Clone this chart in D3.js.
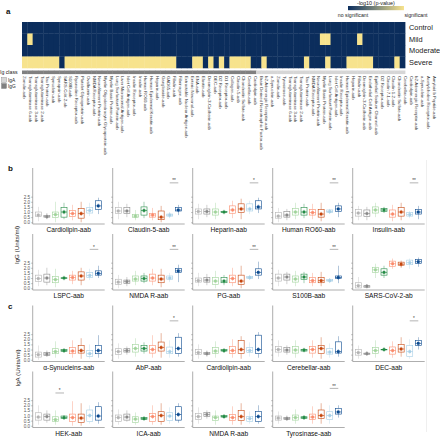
<!DOCTYPE html>
<html><head><meta charset="utf-8">
<script src="https://cdn.jsdelivr.net/npm/d3@7"></script>
<style>
html,body{margin:0;padding:0;background:#fff;}
svg{display:block;font-family:"Liberation Sans",Arial,sans-serif;}
</style></head>
<body>
<svg id="chart" width="440" height="438"></svg>
<script>
// ---------------- DATA ----------------
const heatColumns = [
 "Zonulin-aab","Transglutaminase 6-aab","Transglutaminase 3-aab","Transglutaminase 2-aab","Tau Protein-aab",
 "Synuclein-aab","Synapsin-aab","SARS-CoV-2-ab","S100B-aab","Ryanodine Receptor-aab","Platelet Glycoprotein-aab",
 "Ovalbumin-aab","NMDA Receptor-aab","Neurofilament Protein-aab","Myelin Oligodendrocyte Glycoprotein-aab",
 "Myelin Basic Protein-aab","Lung Surfactant Protein-aab","Liver Microsomal Antigen-aab","Islet Cell Antigen-aab",
 "Insulin Receptor-aab","Insulin-aab","Human RO60-aab","Human Epidermal Keratin-aab","Heparin-aab","Ganglioside-aab",
 "GAD65-aab","Fibulin-aab","Fibrinogen-aab","Extractable Nuclear Antigen-aab","Enteric Neuronal-aab","ENA-aab",
 "Elastin-aab","Desmoglein-3-Cadherin-aab","DEC-aab","D2 Receptor-aab","D1 Receptor-aab","Collagen-aab",
 "Claudin-5-aab","Chondroitin Sulfate-aab","Cerebellar-aab","Cardiolipin-aab","Brain Derived Neurotrophic Factor-aab",
 "b2-Adrenergic Receptor-aab","a-Synuclein-aab",
 "Zonulin-aab ","Tyrosinase-aab","Transglutaminase 6-aab ","Transglutaminase 3-aab ","Transglutaminase 2-aab ",
 "Tau Protein-aab ","NMDA Receptor-aab ","Neurofilament Protein-aab ","Myelin Basic Protein-aab ",
 "Lung Surfactant Protein-aab ","Islet Cell Antigen-aab ","Insulin Receptor-aab ","Human Epidermal Keratin-aab ",
 "Heparin-aab ","Fibulin-aab ","Desmoglein-3-Cadherin-aab ","Endothelial Cell Antigen-aab","Epithelial Sodium Channel-aab",
 "D2 Receptor-aab ","Claudin 7-1-aab","Claudin 1-2-aab","Chondroitin Sulfate-aab ","Cerebellar-aab ","Cardiolipin-aab ",
 "b2-Adrenergic Receptor-aab ","a-Synuclein-aab ","Acetylcholine Receptor-aab","Amyloid b Peptide-aab"
];
const igClassRuns = [["IgG",44],["IgA",28]];
const severities = ["Control","Mild","Moderate","Severe"];
// column indices with significant (-log10 p) per severity
const sigControl = [];
const sigMild = [1,56,57,63];
const sigModerate = [];
const sigSevere = [0,1,2,3,4,5,6,8,9,10,11,12,13,14,15,16,17,18,19,20,21,22,23,24,25,26,27,28,
  32,33,35,37,39,40,41,42,45,53,57,61,62,63,64,65,70];

const groups = ["g1","g2","g3","g4","g5","g6","g7","g8"];
const groupColors = ["#b3b3b3","#8a8a8a","#9fd39a","#238b45","#fb8a6a","#c6470f","#a6cfe6","#0b4a8f"];

// panel b (IgG) : [low, q1, median, q3, high] per group
const panelBNames = ["Cardiolipin-aab","Claudin-5-aab","Heparin-aab","Human RO60-aab","Insulin-aab",
                     "LSPC-aab","NMDA R-aab","PG-aab","S100B-aab","SARS-CoV-2-ab"];
const panelBStats = [
 [[0.1,0.55,0.7,1.0,1.5],[0.3,0.5,0.55,0.65,0.9],[0.0,0.45,0.75,1.0,2.0],[0.3,0.5,1.0,1.45,1.9],[0.2,0.55,0.85,1.15,1.7],[0.0,0.4,0.85,1.35,2.0],[0.6,0.9,1.15,1.45,1.9],[0.8,1.25,1.6,2.1,2.4]],
 [[0.3,0.85,1.1,1.45,2.0],[0.5,0.85,1.1,1.45,1.8],[0.2,0.45,0.6,0.75,1.2],[0.4,0.7,1.15,1.5,2.0],[0.2,0.5,0.7,0.85,1.4],[0.0,0.25,0.5,1.1,1.6],[0.4,0.6,0.7,0.8,1.0],[0.7,1.1,1.2,1.45,1.7]],
 [[0.3,0.8,1.05,1.3,1.8],[0.5,0.8,1.05,1.3,1.7],[0.3,0.7,1.0,1.3,1.9],[0.9,0.97,1.0,1.05,1.1],[0.4,0.88,1.2,1.6,2.1],[0.3,0.94,1.3,1.8,2.3],[0.8,1.1,1.3,1.8,2.1],[0.9,1.3,1.5,2.1,2.4]],
 [[0.0,0.4,0.6,0.95,1.4],[0.2,0.5,0.7,1.05,1.3],[0.3,0.7,1.0,1.35,1.9],[0.4,0.7,1.0,1.45,1.8],[0.3,0.7,0.95,1.25,1.8],[0.1,0.5,0.8,1.25,1.9],[0.8,0.95,1.05,1.2,1.3],[0.5,1.05,1.3,1.6,1.9]],
 [[0.2,0.6,0.9,1.25,1.6],[0.2,0.55,0.85,1.2,1.5],[0.5,0.9,1.2,1.5,1.9],[0.9,1.05,1.2,1.35,1.5],[0.1,0.5,0.8,1.2,1.7],[0.2,0.6,1.0,1.45,1.9],[0.4,0.6,0.75,0.95,1.1],[0.3,0.8,1.0,1.25,1.6]],
 [[0.2,0.68,0.95,1.28,1.8],[0.3,0.6,1.0,1.38,2.0],[0.1,0.54,0.85,1.15,1.9],[0.95,0.98,1.0,1.02,1.05],[0.4,0.8,1.05,1.28,1.7],[0.3,0.8,1.2,1.6,2.0],[0.8,1.05,1.25,1.55,1.9],[1.0,1.28,1.45,1.7,2.2]],
 [[0.0,0.37,0.6,0.88,1.3],[0.2,0.47,0.65,0.8,1.1],[0.3,0.7,0.9,1.2,1.7],[0.5,0.7,0.95,1.2,1.5],[0.3,0.7,1.0,1.38,1.9],[0.1,0.54,0.9,1.28,1.9],[0.6,0.88,1.0,1.2,1.5],[0.6,1.55,1.7,1.95,2.3]],
 [[0.2,0.6,0.75,1.0,1.5],[0.3,0.6,0.8,1.05,1.4],[0.0,0.37,0.7,1.05,1.7],[0.3,0.54,0.7,1.05,1.3],[0.2,0.54,0.95,1.28,2.0],[0.0,0.37,0.7,1.28,2.2],[0.8,0.95,1.05,1.15,1.3],[0.9,1.28,1.55,1.9,2.6]],
 [[0.2,0.7,1.0,1.38,1.8],[0.4,0.8,1.1,1.38,1.6],[0.2,0.6,0.9,1.2,1.7],[0.5,0.88,1.1,1.38,1.6],[0.2,0.54,0.75,1.05,1.5],[0.2,0.54,0.75,1.05,1.6],[0.5,0.7,0.75,0.85,1.0],[0.5,0.95,1.05,1.2,2.2]],
 [[0.0,0.03,0.25,0.54,1.1],[0.05,0.1,0.2,0.25,0.4],[1.0,1.55,1.8,2.05,2.4],[1.0,1.28,1.55,1.9,2.2],[1.9,2.15,2.4,2.65,2.9],[2.0,2.25,2.35,2.55,2.7],[1.9,2.3,2.5,2.75,2.9],[2.1,2.4,2.6,2.8,3.0]]
];
const panelBSig = [null,
 {a:6,b:7,label:"**",y:3.85},{a:6,b:7,label:"*",y:3.85},{a:6,b:7,label:"**",y:3.85},{a:6,b:7,label:"**",y:3.85},
 {a:6,b:7,label:"*",y:3.8},{a:6,b:7,label:"**",y:3.8},{a:6,b:7,label:"**",y:3.8},{a:6,b:7,label:"**",y:3.8},null];

// panel c (IgA)
const panelCNames = ["α-Synucleins-aab","AbP-aab","Cardiolipin-aab","Cerebellar-aab","DEC-aab",
                     "HEK-aab","ICA-aab","NMDA R-aab","Tyrosinase-aab"];
const panelCStats = [
 [[0.0,0.26,0.5,0.75,1.4],[0.3,0.42,0.55,0.69,0.9],[0.2,0.59,0.8,1.08,1.8],[0.7,0.82,0.9,1.0,1.1],[0.2,0.59,0.85,1.18,1.9],[0.1,0.65,0.9,1.4,2.1],[0.1,0.33,0.6,0.92,1.5],[0.2,0.59,0.9,1.4,2.4]],
 [[0.1,0.52,0.8,1.08,1.6],[0.5,0.75,0.9,1.08,1.3],[0.3,0.75,1.1,1.5,2.1],[0.6,0.85,1.1,1.4,1.7],[0.2,0.65,1.0,1.4,2.4],[0.2,0.85,1.2,1.73,2.6],[0.2,0.59,0.8,1.24,1.9],[0.3,0.6,1.1,2.2,2.6]],
 [[0.1,0.5,0.7,1.0,1.5],[0.3,0.5,0.6,0.7,0.9],[0.2,0.6,0.85,1.2,1.8],[0.7,0.85,0.9,1.0,1.1],[0.2,0.6,0.9,1.3,2.0],[0.1,0.6,1.0,1.9,2.3],[0.3,0.7,0.9,1.2,1.7],[0.2,0.6,1.0,2.4,2.7]],
 [[0.3,0.75,1.0,1.3,1.9],[0.5,0.75,0.95,1.2,1.4],[0.2,0.65,0.95,1.3,1.9],[0.75,0.85,0.95,1.0,1.1],[0.2,0.65,1.0,1.3,1.9],[0.1,0.6,1.1,1.4,2.2],[0.2,0.55,0.75,1.1,1.6],[0.3,0.65,0.8,1.75,2.3]],
 [[0.1,0.45,0.7,1.0,1.4],[0.4,0.5,0.6,0.65,0.8],[0.2,0.6,0.9,1.2,1.9],[0.95,0.98,1.0,1.02,1.05],[0.2,0.55,0.9,1.25,1.8],[0.3,0.75,1.05,1.5,2.2],[0.1,0.3,0.8,1.4,2.0],[1.0,1.4,1.6,1.9,2.2]],
 [[0.1,0.55,0.85,1.27,2.0],[0.3,0.55,0.9,1.14,1.5],[0.1,0.4,0.6,0.88,1.5],[0.6,0.69,0.8,0.95,1.0],[0.0,0.4,0.8,1.14,2.4],[0.0,0.3,0.75,1.14,2.2],[0.2,0.4,1.0,1.54,2.0],[0.2,0.55,0.95,1.86,2.3]],
 [[0.1,0.4,0.8,1.05,1.6],[0.4,0.55,0.85,1.14,1.5],[0.1,0.3,0.65,0.88,1.3],[0.55,0.62,0.7,0.82,0.9],[0.1,0.4,0.9,1.2,2.0],[0.1,0.4,1.0,1.37,2.2],[0.2,0.5,0.95,1.27,1.8],[0.3,0.55,1.1,1.86,2.2]],
 [[0.2,0.6,0.9,1.2,1.8],[0.7,0.9,1.1,1.3,1.5],[0.1,0.5,0.8,0.95,1.5],[0.75,0.85,0.9,1.0,1.1],[0.1,0.5,0.8,1.1,1.9],[0.1,0.5,0.9,1.5,2.2],[0.2,0.4,0.7,0.9,1.4],[0.2,0.4,0.9,1.4,2.0]],
 [[0.2,0.55,0.75,0.95,1.4],[0.5,0.62,0.7,0.82,1.0],[0.2,0.55,0.8,1.05,1.6],[0.6,0.72,0.8,0.88,1.0],[0.2,0.62,0.85,1.14,1.9],[0.2,0.72,1.0,1.54,2.2],[0.2,0.62,1.0,1.37,2.0],[0.8,1.14,1.35,1.7,2.0]]
];
const panelCSig = [null,{a:6,b:7,label:"*",y:3.8},null,null,{a:6,b:7,label:"*",y:3.8},
 {a:2,b:3,label:"*",y:3.2},null,null,{a:6,b:7,label:"**",y:3.65}];

const yTicks = [0,0.5,1.0,1.5,2.0,2.5];

// ---------------- DRAW ----------------
const svg = d3.select("#chart");
const navy = "#0b2d5c", yellow = "#f7e38d";

// panel letters
[["a",6,14],["b",8,171],["c",8,309]].forEach(([t,x,y])=>{
  svg.append("text").attr("x",x).attr("y",y).attr("font-size",8).attr("font-weight","bold").attr("fill","#111").text(t);
});

// heatmap
const colIdx = d3.range(heatColumns.length);
const xh = d3.scaleBand().domain(colIdx).range([22,405]);
const yh = d3.scaleBand().domain(severities).range([22,68]);
const sigRows = {Control:sigControl, Mild:sigMild, Moderate:sigModerate, Severe:sigSevere};
const cells = [];
severities.forEach(s=>colIdx.forEach(i=>cells.push({s,i,sig:sigRows[s].includes(i)})));
svg.append("g").selectAll("rect").data(cells).join("rect")
  .attr("x",d=>xh(d.i)).attr("y",d=>yh(d.s))
  .attr("width",xh.bandwidth()+0.4).attr("height",yh.bandwidth()+0.3)
  .attr("fill",d=>d.sig?yellow:navy);
svg.append("g").selectAll("text").data(severities).join("text")
  .attr("x",409).attr("y",d=>yh(d)+yh.bandwidth()/2+2.6)
  .attr("font-size",7.4).attr("fill","#222").text(d=>d);

// ig class bar
let start=0; const igCells=[];
igClassRuns.forEach(([c,n])=>{ for(let k=0;k<n;k++) igCells.push({i:start+k,c}); start+=n; });
const igColor = {IgG:"#808080", IgA:"#d6d6d6"};
svg.append("g").selectAll("rect").data(igCells).join("rect")
  .attr("x",d=>xh(d.i)).attr("y",70.5).attr("width",xh.bandwidth()+0.4).attr("height",3.6)
  .attr("fill",d=>igColor[d.c]);
svg.append("text").attr("x",0).attr("y",74).attr("font-size",5.2).attr("fill","#222").text("Ig class");
[["IgA",77.5],["IgG",83.5]].forEach(([c,y])=>{
  svg.append("rect").attr("x",1.5).attr("y",y).attr("width",5).attr("height",5).attr("fill",igColor[c]).attr("stroke","#666").attr("stroke-width",0.3);
  svg.append("text").attr("x",8).attr("y",y+4.2).attr("font-size",4.8).attr("fill","#222").text(c);
});

// column labels (rotated)
const xl = d3.scaleBand().domain(colIdx).range([22,437]);
svg.append("g").selectAll("text").data(colIdx).join("text")
  .attr("transform",i=>`translate(${xl(i)+xl.bandwidth()/2-1.5},76) rotate(90)`)
  .attr("font-size",4.3).attr("fill","#333").text(i=>heatColumns[i].trim());

// gradient legend
const grad = svg.append("defs").append("linearGradient").attr("id","pgrad");
grad.append("stop").attr("offset","0%").attr("stop-color",navy);
grad.append("stop").attr("offset","50%").attr("stop-color","#7f8a7c");
grad.append("stop").attr("offset","100%").attr("stop-color",yellow);
svg.append("rect").attr("x",348).attr("y",6).attr("width",56).attr("height",4.2).attr("fill","url(#pgrad)");
svg.append("text").attr("x",376).attr("y",4.5).attr("text-anchor","middle").attr("font-size",5.4).attr("fill","#222").text("-log10 (p-value)");
svg.append("text").attr("x",353).attr("y",16.5).attr("text-anchor","middle").attr("font-size",5.2).attr("fill","#222").text("no significant");
svg.append("text").attr("x",416).attr("y",16.5).attr("text-anchor","middle").attr("font-size",5.2).attr("fill","#222").text("significant");

// y axis titles
svg.append("text").attr("transform","translate(19,245) rotate(-90)").attr("text-anchor","middle").attr("font-size",6.2).attr("fill","#222").text("IgG (Units/ml)");
svg.append("text").attr("transform","translate(20,368) rotate(-90)").attr("text-anchor","middle").attr("font-size",6.2).attr("fill","#222").text("IgA (Units/ml)");

// faint right border line
svg.append("line").attr("x1",426.5).attr("x2",426.5).attr("y1",160).attr("y2",432).attr("stroke","#e4e4e4").attr("stroke-width",0.6);

function drawPanel(name, stats, sig, left, bottom, showLabels){
  const g = svg.append("g");
  const W = 72, H = 56;
  const y = d3.scaleLinear().domain([-0.17,5.3]).range([bottom,bottom-H]);
  const x = d3.scalePoint().domain(d3.range(groups.length)).range([left+5.6,left+65.6]);
  const ax = d3.axisLeft(y).tickValues(yTicks).tickSize(1.6).tickPadding(1)
    .tickFormat(showLabels?d3.format(".1f"):()=>"");
  const ag = g.append("g").attr("transform",`translate(${left},0)`).call(ax);
  ag.select(".domain").remove();
  ag.selectAll("line").attr("stroke","#666").attr("stroke-width",0.4);
  ag.selectAll("text").attr("font-size",4.6).attr("fill","#555").attr("font-family","Liberation Sans, Arial");
  g.append("line").attr("x1",left).attr("x2",left).attr("y1",bottom-H).attr("y2",bottom).attr("stroke","#777").attr("stroke-width",0.6);
  g.append("line").attr("x1",left).attr("x2",left+W).attr("y1",bottom).attr("y2",bottom).attr("stroke","#777").attr("stroke-width",0.6);
  stats.forEach((s,k)=>{
    const [lo,q1,md,q3,hi] = s; const cx = x(k), c = groupColors[k], bw = 6;
    const light = k%2===0;
    g.append("line").attr("x1",cx).attr("x2",cx).attr("y1",y(lo)).attr("y2",y(q1)).attr("stroke",c).attr("stroke-width",0.5).attr("opacity",0.8);
    g.append("line").attr("x1",cx).attr("x2",cx).attr("y1",y(q3)).attr("y2",y(hi)).attr("stroke",c).attr("stroke-width",0.5).attr("opacity",0.8);
    g.append("rect").attr("x",cx-bw/2).attr("y",y(q3)).attr("width",bw).attr("height",Math.max(0.6,y(q1)-y(q3)))
      .attr("fill","none").attr("stroke",c).attr("stroke-width",0.6);
    g.append("line").attr("x1",cx-bw/2).attr("x2",cx+bw/2).attr("y1",y(md)).attr("y2",y(md)).attr("stroke",c).attr("stroke-width",0.7);
    g.append("rect").attr("x",cx-1.3).attr("y",y(md)-1.3).attr("width",2.6).attr("height",2.6).attr("fill",light?c:c);
    g.append("line").attr("x1",cx).attr("x2",cx).attr("y1",y(md)-2.2).attr("y2",y(md)+2.2).attr("stroke",c).attr("stroke-width",0.6);
  });
  if(sig){
    const yy = y(sig.y);
    g.append("line").attr("x1",x(sig.a)).attr("x2",x(sig.b)).attr("y1",yy).attr("y2",yy).attr("stroke","#444").attr("stroke-width",0.4);
    g.append("text").attr("x",(x(sig.a)+x(sig.b))/2).attr("y",yy-0.6).attr("text-anchor","middle").attr("font-size",4.6).attr("fill","#333").text(sig.label);
  }
  g.append("text").attr("x",left+W/2).attr("y",bottom+8.2).attr("text-anchor","middle").attr("font-size",6.6).attr("fill","#111").text(name);
}

const bBottoms = [224,290], cBottoms = [361.5,427.5];
panelBNames.forEach((n,i)=>{
  const r=Math.floor(i/5), c=i%5;
  drawPanel(n, panelBStats[i], panelBSig[i], 32.7+c*80, bBottoms[r], c===0);
});
panelCNames.forEach((n,i)=>{
  const r=Math.floor(i/5), c=i%5;
  drawPanel(n, panelCStats[i], panelCSig[i], 32.7+c*80, cBottoms[r], c===0);
});
</script>
</body></html>
